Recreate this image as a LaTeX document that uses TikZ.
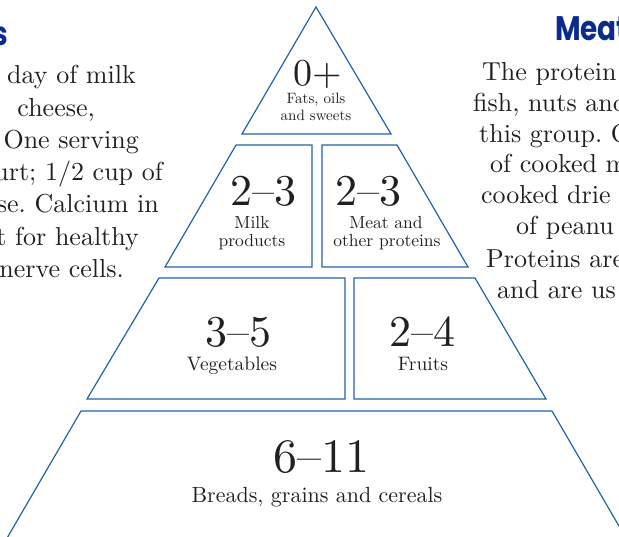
\documentclass[tikz,border=0pt]{standalone}
\usepackage{fontspec}
\setmainfont{lmroman10-regular.otf}
\newfontfamily\headfont{Poppins}
\definecolor{lineblue}{HTML}{2262A8}
\definecolor{ink}{HTML}{231F20}
\definecolor{headblue}{HTML}{0A2A8C}
\frenchspacing
\begin{document}
\begin{tikzpicture}[x=1pt,y=-1pt,
  tier/.style={draw=lineblue, line width=1.2pt, line join=miter},
  body/.style={font=\fontsize{26}{30}\selectfont, text=ink, inner sep=0pt},
  bignum/.style={font=\fontsize{44}{44}\selectfont, text=ink, inner sep=0pt, anchor=base},
  lab/.style={font=\fontsize{18}{18}\selectfont, text=ink, inner sep=0pt, anchor=base},
  head/.style={font=\headfont\bfseries, text=headblue, inner sep=0pt}]
\useasboundingbox (0,0) rectangle (619,536);
\clip (0,0) rectangle (619,536);
% pyramid tiers
\draw[tier] (316,7) -- (391,134) -- (242,134) -- cycle;
\draw[tier] (236,145) -- (312,145) -- (312,267) -- (165,267) -- cycle;
\draw[tier] (322,145) -- (397,145) -- (468,267) -- (322,267) -- cycle;
\draw[tier] (159,278) -- (345,278) -- (345,399) -- (87,399) -- cycle;
\draw[tier] (354,278) -- (475,278) -- (546,399) -- (354,399) -- cycle;
\draw[tier] (3,545) -- (81,411) -- (552,411) -- (630,545);
% tier labels
\node[bignum, font=\fontsize{38}{38}\selectfont] (n0) at (318,85) {0+};
\node[lab, font=\fontsize{15}{15}\selectfont] (f1) at (316,103) {Fats, oils};
\node[lab, font=\fontsize{15}{15}\selectfont] (f2) at (316,120) {and sweets};
\node[bignum] (n1) at (263,205) {2\textendash3};
\node[lab, font=\fontsize{17.5}{17.5}\selectfont] (m1) at (252,228) {Milk};
\node[lab, font=\fontsize{17.5}{17.5}\selectfont] (m2) at (252,246) {products};
\node[bignum] (n2) at (368,205) {2\textendash3};
\node[lab, font=\fontsize{17.5}{17.5}\selectfont] (p1) at (386,228) {Meat and};
\node[lab, font=\fontsize{17.5}{17.5}\selectfont] (p2) at (387,246) {other proteins};
\node[bignum] (n3) at (238,346) {3\textendash5};
\node[lab, font=\fontsize{19.5}{19.5}\selectfont] (v1) at (232,370) {Vegetables};
\node[bignum] (n4) at (422,346) {2\textendash4};
\node[lab, font=\fontsize{19.5}{19.5}\selectfont] (fr) at (423,370) {Fruits};
\node[bignum, font=\fontsize{48}{48}\selectfont] (n5) at (321,472) {6\textendash11};
\node[lab, font=\fontsize{22}{22}\selectfont] (b1) at (317,502) {Breads, grains and cereals};
% left column
\node[head, anchor=base east] (hl) at (8.5,45) {\scalebox{0.85}[1]{\fontsize{33}{33}\selectfont s}};
\node[body, anchor=base east] (l1) at (136,83) {day of milk};
\node[body, anchor=base east] (l2) at (95,116) {cheese,};
\node[body, anchor=base east] (l3) at (139,148) {One serving};
\node[body, anchor=base east] (l4) at (163,180) {urt; 1/2 cup of};
\node[body, anchor=base east] (l5) at (159,212) {se. Calcium in};
\node[body, anchor=base east] (l6) at (139,245) {t for healthy};
\node[body, anchor=base east] (l7) at (124,277) {nerve cells.};
% right column
\node[head, anchor=base west] (hr) at (555,40) {\scalebox{0.82}[1]{\fontsize{34}{34}\selectfont Meat}};
\node[body, anchor=base west] (r1) at (482,80) {The protein};
\node[body, anchor=base west] (r2) at (473,111) {fish, nuts and};
\node[body, anchor=base west] (r3) at (479,142) {this group. O};
\node[body, anchor=base west] (r4) at (490,172) {of cooked m};
\node[body, anchor=base west] (r5) at (481,203) {cooked drie};
\node[body, anchor=base west] (r6) at (516,234) {of peanu};
\node[body, anchor=base west] (r7) at (486,267) {Proteins are};
\node[body, anchor=base west] (r8) at (497,298) {and are us};
\end{tikzpicture}
\end{document}
